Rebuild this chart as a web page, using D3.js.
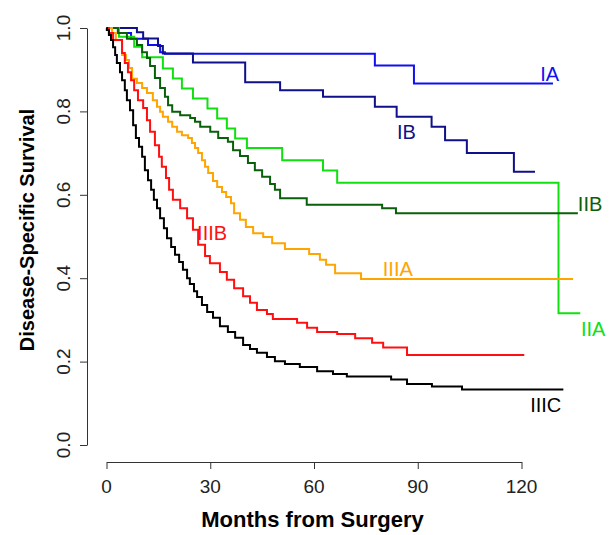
<!DOCTYPE html>
<html>
<head>
<meta charset="utf-8">
<script src="https://cdn.jsdelivr.net/npm/d3@7"></script>
<style>
	body { margin: 0; background: #fff; overflow: hidden; }
	svg { display: block; }
	.axis path, .axis line { stroke: #333; stroke-width: 1px; }
	.curve { fill: none; stroke-width: 2px; }
</style>
</head>
<body>
<div id="km"><svg></svg></div>
<script>
//Kaplan-Meier steps: [months, survival].
const stageIA = [[0,1],[3.3,0.988],[7.1,0.974],[12.0,0.959],[15.5,0.942],[16.9,0.938],[77.6,0.910],[88.9,0.867],[129.1,0.867]];
const stageIB = [[0,1],[8.8,0.990],[10.6,0.975],[14.9,0.957],[16.3,0.939],[25.0,0.917],[40.1,0.870],[50.2,0.851],[62.6,0.835],[77.6,0.811],[83.9,0.787],[94.0,0.763],[97.9,0.731],[104.2,0.700],[117.8,0.655],[123.9,0.655]];
const stageIIA = [[0,1],[3.6,0.979],[8.0,0.955],[10.3,0.930],[16.3,0.903],[19.2,0.879],[21.8,0.855],[25.0,0.831],[29.2,0.807],[32.0,0.783],[34.8,0.759],[37.2,0.735],[40.6,0.712],[50.8,0.683],[62.6,0.658],[66.7,0.629],[130.7,0.316],[137.0,0.316]];
const stageIIB = [[0,1],[3.3,0.988],[5.9,0.974],[8.8,0.959],[10.3,0.942],[11.7,0.928],[12.6,0.909],[14.0,0.880],[15.5,0.856],[16.9,0.835],[17.8,0.815],[19.0,0.799],[21.3,0.791],[24.2,0.784],[25.6,0.775],[27.1,0.763],[30.0,0.751],[32.3,0.736],[35.1,0.727],[36.6,0.707],[38.6,0.693],[40.9,0.676],[42.9,0.659],[45.0,0.643],[47.3,0.626],[48.7,0.612],[50.2,0.592],[57.9,0.576],[79.7,0.568],[83.7,0.556],[136.3,0.556]];
const stageIIIA = [[0,1],[1.6,0.988],[2.7,0.971],[4.5,0.935],[5.6,0.923],[6.5,0.904],[7.4,0.878],[8.8,0.868],[10.3,0.856],[11.7,0.844],[13.4,0.827],[14.6,0.811],[15.5,0.799],[16.3,0.787],[17.8,0.775],[19.0,0.763],[20.4,0.751],[21.8,0.743],[23.6,0.736],[24.7,0.724],[25.6,0.712],[26.5,0.700],[27.6,0.683],[28.5,0.667],[29.4,0.652],[30.8,0.633],[32.0,0.619],[33.4,0.607],[34.6,0.595],[36.0,0.580],[36.9,0.556],[38.6,0.540],[40.3,0.523],[42.4,0.508],[45.3,0.499],[47.9,0.484],[51.6,0.470],[58.6,0.458],[61.7,0.444],[63.5,0.432],[66.1,0.412],[73.6,0.398],[134.9,0.398]];
const stageIIIB = [[0,1],[0.7,0.988],[1.9,0.971],[4.5,0.940],[5.3,0.916],[6.2,0.894],[7.1,0.875],[8.0,0.851],[9.1,0.827],[10.6,0.808],[11.7,0.779],[12.6,0.751],[14.0,0.719],[15.2,0.691],[16.0,0.667],[17.2,0.640],[18.1,0.612],[19.2,0.588],[21.3,0.568],[23.3,0.544],[25.0,0.516],[26.5,0.480],[28.5,0.453],[29.9,0.436],[32.8,0.415],[34.8,0.396],[36.9,0.376],[39.5,0.357],[41.5,0.341],[43.5,0.324],[46.4,0.314],[48.1,0.302],[55.1,0.293],[58.0,0.281],[60.9,0.271],[66.7,0.266],[71.9,0.256],[76.8,0.245],[80.0,0.234],[86.9,0.216],[120.8,0.216]];
const stageIIIC = [[0,1],[0.1,0.995],[0.7,0.983],[1.3,0.971],[1.9,0.954],[2.5,0.935],[3.0,0.916],[3.9,0.894],[4.5,0.875],[5.3,0.851],[5.9,0.827],[6.8,0.803],[7.7,0.767],[8.5,0.736],[9.4,0.715],[10.3,0.691],[11.1,0.659],[12.0,0.635],[12.9,0.612],[13.7,0.588],[14.6,0.568],[15.5,0.544],[16.6,0.520],[17.5,0.496],[18.7,0.475],[19.8,0.456],[21.0,0.439],[22.1,0.420],[23.3,0.400],[24.1,0.386],[25.3,0.369],[26.2,0.355],[27.6,0.336],[29.1,0.319],[30.8,0.305],[32.8,0.285],[35.1,0.271],[37.2,0.257],[39.5,0.240],[41.5,0.230],[43.5,0.221],[46.4,0.211],[48.7,0.201],[51.6,0.194],[55.9,0.187],[60.9,0.177],[65.5,0.170],[69.5,0.164],[82.3,0.157],[86.9,0.146],[94.1,0.140],[102.8,0.133],[132.1,0.133]];

const stageNames = ['IA', 'IB', 'IIA', 'IIB', 'IIIA', 'IIIB', 'IIIC'];
//Where each stage name is written, in data units [months, survival].
const stageLabelAt = [[125.4,0.873],[84.0,0.735],[137.2,0.261],[136.3,0.561],[79.9,0.405],[26.2,0.492],[122.5,0.080]];
const xTicks = [0, 30, 60, 90, 120];
const yTicks = [0, 0.2, 0.4, 0.6, 0.8, 1.0];

const curves = [stageIA, stageIB, stageIIA, stageIIB, stageIIIA, stageIIIB, stageIIIC];
const colors = ['#1010f0', '#10108a', '#10e010', '#0a600a', '#ffa500', '#ff1010', '#000000'];

const font = '"Liberation Sans", Arial, sans-serif';
const width = 610, height = 535;
const margin = {top: 28, right: 88.5, bottom: 90, left: 106.5};
const innerWidth = width - margin.left - margin.right;
const innerHeight = height - margin.top - margin.bottom;

const svg = d3.select('#km').select('svg')
	.attr('width', width)
	.attr('height', height)
	.attr('viewBox', `0 0 ${width} ${height}`);
const g_el = svg.append('g')
	.attr('transform', `translate(${margin.left}, ${margin.top})`);

const x = d3.scaleLinear().domain([0, 120]).range([0, innerWidth]);
const y = d3.scaleLinear().domain([0, 1]).range([innerHeight, 0]);

//R style detached axes: lines from d3.axis, labels written separately.
g_el.append('g')
	.attr('class', 'axis')
	.attr('transform', 'translate(-19.5, 0)')
	.call(d3.axisLeft(y).tickValues(yTicks).tickFormat('').tickSize(7).tickSizeOuter(0));
g_el.append('g')
	.attr('class', 'axis')
	.attr('transform', `translate(0, ${innerHeight + 17})`)
	.call(d3.axisBottom(x).tickValues(xTicks).tickFormat('').tickSize(7).tickSizeOuter(0));
svg.selectAll('.axis text').remove();

const fmt = d3.format('.1f');
svg.selectAll('text.ytick')
	.data(yTicks)
	.join('text')
	.attr('class', 'ytick')
	.text(d => fmt(d))
	.attr('text-anchor', 'middle')
	.attr('transform', d => `translate(${margin.left - 36.5}, ${margin.top + y(d)}) rotate(-90)`)
	.attr('font-family', font)
	.attr('font-size', 19)
	.attr('fill', '#222');
svg.selectAll('text.xtick')
	.data(xTicks)
	.join('text')
	.attr('class', 'xtick')
	.text(d => d)
	.attr('x', d => margin.left + x(d))
	.attr('y', margin.top + innerHeight + 48)
	.attr('text-anchor', 'middle')
	.attr('font-family', font)
	.attr('font-size', 19)
	.attr('fill', '#222');

//Axis titles.
svg.append('text')
	.text('Months from Surgery')
	.attr('x', 312.5)
	.attr('y', 527)
	.attr('text-anchor', 'middle')
	.attr('font-family', font)
	.attr('font-weight', 'bold')
	.attr('font-size', 22);
svg.append('text')
	.text('Disease-Specific Survival')
	.attr('text-anchor', 'middle')
	.attr('transform', 'translate(34, 230) rotate(-90)')
	.attr('font-family', font)
	.attr('font-weight', 'bold')
	.attr('font-size', 20);

//Survival curves.
const line = d3.line()
	.x(d => x(d[0]))
	.y(d => y(d[1]))
	.curve(d3.curveStepAfter);
g_el.selectAll('path.curve')
	.data(curves)
	.join('path')
	.attr('class', 'curve')
	.attr('d', line)
	.style('stroke', (d, i) => colors[i]);

//Stage names.
g_el.selectAll('text.lab')
	.data(stageNames)
	.join('text')
	.attr('class', 'lab')
	.text(d => d)
	.attr('x', (d, i) => x(stageLabelAt[i][0]))
	.attr('y', (d, i) => y(stageLabelAt[i][1]))
	.attr('font-family', font)
	.attr('font-size', 20)
	.attr('fill', (d, i) => colors[i]);
</script>
</body>
</html>
